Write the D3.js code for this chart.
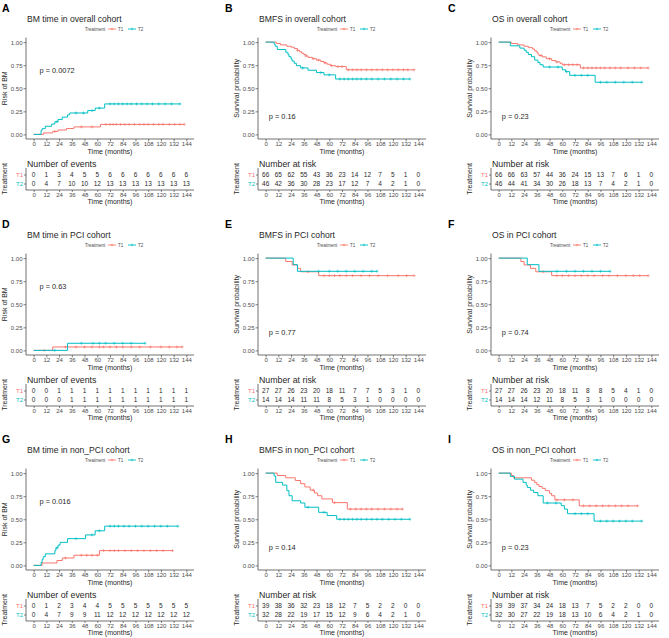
<!DOCTYPE html>
<html>
<head>
<meta charset="utf-8">
<script src="https://cdn.jsdelivr.net/npm/d3@7"></script>
<style>
body { margin: 0; background: #fff; }
svg { font-family: "Liberation Sans", Arial, sans-serif; }
</style>
</head>
<body>
<div id="chart"></div>
<script>
var months = [0, 12, 24, 36, 48, 60, 72, 84, 96, 108, 120, 132, 144];
var probTicks = [0, 0.25, 0.5, 0.75, 1];
var groups = ['T1', 'T2'];

// step curves: [time, value], last point = end of follow-up
var bmAllT1 = [[0,0],[9.5,0.016],[18,0.032],[23,0.048],[31,0.064],[38,0.081],[63,0.108],[142,0.108]];
var bmAllT2 = [[0,0],[7,0.044],[8,0.062],[11,0.088],[17,0.112],[20,0.137],[23,0.162],[27,0.187],[32,0.212],[34,0.232],[51,0.258],[58,0.285],[67,0.33],[138,0.33]];
var bmfsAllT1 = [[0,1],[10,0.985],[14,0.97],[20,0.955],[24,0.945],[27,0.93],[30,0.91],[32,0.895],[34,0.88],[36,0.865],[38,0.85],[40,0.835],[44,0.82],[48,0.805],[52,0.79],[55,0.775],[58,0.76],[61,0.745],[66,0.735],[76,0.70],[140,0.70]];
var bmfsAllT2 = [[0,1],[8,0.978],[9,0.956],[11,0.92],[19,0.89],[21,0.866],[22,0.842],[24,0.818],[25,0.794],[27,0.77],[29,0.745],[33,0.72],[40,0.695],[48,0.67],[55,0.645],[66,0.60],[136,0.60]];
var osAllT1 = [[0,1],[12,0.985],[18,0.97],[24,0.955],[28,0.94],[32,0.925],[34,0.905],[36,0.89],[37,0.87],[38,0.855],[41,0.84],[45,0.82],[50,0.80],[54,0.785],[58,0.77],[60,0.755],[77,0.72],[141,0.72]];
var osAllT2 = [[0,1],[11,0.96],[20,0.935],[24,0.912],[26,0.89],[28,0.866],[31,0.842],[34,0.805],[37,0.78],[39,0.755],[42,0.73],[60,0.70],[63,0.68],[67,0.64],[91,0.565],[135,0.565]];
var bmPciT1 = [[0,0],[18,0.037],[140,0.037]];
var bmPciT2 = [[0,0],[32,0.077],[105,0.077]];
var bmfsPciT1 = [[0,1],[19,0.963],[25,0.926],[30,0.889],[33,0.852],[50,0.81],[140,0.81]];
var bmfsPciT2 = [[0,1],[26,0.929],[30,0.857],[105,0.857]];
var osPciT1 = [[0,1],[21,0.963],[24,0.926],[30,0.889],[35,0.852],[50,0.81],[141,0.81]];
var osPciT2 = [[0,1],[27,0.929],[38,0.857],[105,0.857]];
var bmNonT1 = [[0,0],[8,0.026],[22,0.053],[27,0.08],[38,0.11],[62,0.16],[131,0.16]];
var bmNonT2 = [[0,0],[7,0.031],[8,0.063],[9,0.094],[11,0.125],[20,0.16],[21,0.19],[23,0.22],[25,0.25],[32,0.29],[49,0.33],[58,0.375],[67,0.425],[136,0.425]];
var bmfsNonT1 = [[0,1],[11,0.974],[19,0.949],[28,0.92],[33,0.885],[37,0.85],[42,0.815],[46,0.785],[49,0.755],[53,0.72],[63,0.68],[77,0.61],[129,0.61]];
var bmfsNonT2 = [[0,1],[8,0.969],[9.5,0.90],[16,0.87],[20,0.81],[22,0.755],[25,0.70],[33,0.676],[37,0.63],[50,0.575],[58,0.54],[67,0.50],[136,0.50]];
var osNonT1 = [[0,1],[12,0.974],[14,0.949],[31,0.923],[34,0.897],[36,0.875],[38,0.855],[41,0.835],[44,0.81],[48,0.78],[50,0.755],[53,0.71],[76,0.645],[131,0.645]];
var osNonT2 = [[0,1],[11,0.965],[15,0.935],[23,0.90],[26,0.87],[27,0.845],[30,0.815],[33,0.79],[37,0.755],[42,0.676],[59,0.647],[62,0.61],[65,0.56],[90,0.48],[135,0.48]];

// censoring times (the + marks)
var bmAllT1Cens = [20,45,55,68,72,75,78,82,86,90,95,100,104,108,113,118,122,128,133,138,142];
var bmAllT2Cens = [22,40,47,55,62,72,76,80,84,88,92,97,102,107,112,118,124,130,138];
var bmfsAllT1Cens = [30,38,45,50,56,62,68,72,78,82,86,90,95,100,105,110,115,120,125,130,134,140];
var bmfsAllT2Cens = [35,52,60,70,74,78,82,86,90,95,100,106,112,118,124,130,136];
var osAllT1Cens = [40,48,55,62,66,70,74,80,84,88,92,96,100,105,110,115,122,128,134,141];
var osAllT2Cens = [48,56,64,72,78,84,96,102,110,118,126,135];
var bmPciT1Cens = [10,30,40,48,55,62,66,72,78,84,92,100,110,120,128,135,140];
var bmPciT2Cens = [20,45,56,62,68,76,84,92,105];
var bmfsPciT1Cens = [40,55,60,65,70,76,82,90,98,106,115,125,133,140];
var bmfsPciT2Cens = [50,60,68,76,84,92,100,105];
var osPciT1Cens = [42,55,60,66,72,78,84,90,98,104,112,120,127,133,141];
var osPciT2Cens = [55,64,72,80,88,96,105];
var bmNonT1Cens = [30,45,50,55,60,66,72,76,80,86,92,98,104,110,116,122,131];
var bmNonT2Cens = [22,40,55,62,72,76,80,85,90,96,102,108,114,120,126,136];
var bmfsNonT1Cens = [45,65,80,85,90,95,100,106,112,118,124,129];
var bmfsNonT2Cens = [40,55,70,74,78,82,86,90,95,100,105,110,116,122,128,136];
var osNonT1Cens = [55,62,70,80,86,92,98,104,110,116,122,131];
var osNonT2Cens = [46,54,72,78,84,96,102,108,114,120,126,135];

// tables below the plots
var bmAllTab1 = [0,1,3,4,5,5,6,6,6,6,6,6,6];
var bmAllTab2 = [0,4,7,10,10,12,13,13,13,13,13,13,13];
var bmfsAllTab1 = [66,65,62,55,43,36,23,14,12,7,5,1,0];
var bmfsAllTab2 = [46,42,36,30,28,23,17,12,7,4,2,1,0];
var osAllTab1 = [66,66,63,57,44,36,24,15,13,7,6,1,0];
var osAllTab2 = [46,44,41,34,30,26,18,13,7,4,2,1,0];
var bmPciTab1 = [0,0,1,1,1,1,1,1,1,1,1,1,1];
var bmPciTab2 = [0,0,0,1,1,1,1,1,1,1,1,1,1];
var bmfsPciTab1 = [27,27,26,23,20,18,11,7,7,5,3,1,0];
var bmfsPciTab2 = [14,14,14,11,11,8,5,3,1,0,0,0,0];
var osPciTab1 = [27,27,26,23,20,18,11,8,8,5,4,1,0];
var osPciTab2 = [14,14,14,12,11,8,5,3,1,0,0,0,0];
var bmNonTab1 = [0,1,2,3,4,4,5,5,5,5,5,5,5];
var bmNonTab2 = [0,4,7,9,9,11,12,12,12,12,12,12,12];
var bmfsNonTab1 = [39,38,36,32,23,18,12,7,5,2,2,0,0];
var bmfsNonTab2 = [32,28,22,19,17,15,12,9,6,4,2,1,0];
var osNonTab1 = [39,39,37,34,24,18,13,7,5,2,2,0,0];
var osNonTab2 = [32,30,27,22,19,18,13,10,6,4,2,1,0];

var letters = ['A','B','C','D','E','F','G','H','I'];
var titles = ['BM time in overall cohort','BMFS in overall cohort','OS in overall cohort',
              'BM time in PCI cohort','BMFS in PCI cohort','OS in PCI cohort',
              'BM time in non_PCI cohort','BMFS in non_PCI cohort','OS in non_PCI cohort'];
var pvalues = ['p = 0.0072','p = 0.16','p = 0.23','p = 0.63','p = 0.77','p = 0.74','p = 0.016','p = 0.14','p = 0.23'];

var panels = [
    { risk: true,  curves: [bmAllT1, bmAllT2],   cens: [bmAllT1Cens, bmAllT2Cens],   table: [bmAllTab1, bmAllTab2] },
    { risk: false, curves: [bmfsAllT1, bmfsAllT2], cens: [bmfsAllT1Cens, bmfsAllT2Cens], table: [bmfsAllTab1, bmfsAllTab2] },
    { risk: false, curves: [osAllT1, osAllT2],   cens: [osAllT1Cens, osAllT2Cens],   table: [osAllTab1, osAllTab2] },
    { risk: true,  curves: [bmPciT1, bmPciT2],   cens: [bmPciT1Cens, bmPciT2Cens],   table: [bmPciTab1, bmPciTab2] },
    { risk: false, curves: [bmfsPciT1, bmfsPciT2], cens: [bmfsPciT1Cens, bmfsPciT2Cens], table: [bmfsPciTab1, bmfsPciTab2] },
    { risk: false, curves: [osPciT1, osPciT2],   cens: [osPciT1Cens, osPciT2Cens],   table: [osPciTab1, osPciTab2] },
    { risk: true,  curves: [bmNonT1, bmNonT2],   cens: [bmNonT1Cens, bmNonT2Cens],   table: [bmNonTab1, bmNonTab2] },
    { risk: false, curves: [bmfsNonT1, bmfsNonT2], cens: [bmfsNonT1Cens, bmfsNonT2Cens], table: [bmfsNonTab1, bmfsNonTab2] },
    { risk: false, curves: [osNonT1, osNonT2],   cens: [osNonT1Cens, osNonT2Cens],   table: [osNonTab1, osNonTab2] }
];

var width = 669,
    height = 638,
    colors = ['#F8766D', '#00BFC4'],
    colX = [0, 223, 446],
    rowY = [0, 216, 431],
    axisX = [26, 35, 45],
    axisColor = '#333333',
    textColor = '#4D4D4D',
    titleColor = '#1f1f1f'
;

var svg = d3.select('#chart')
    .append('svg')
    .attr('width', width)
    .attr('height', height)
    .attr('viewBox', '0 0 ' + width + ' ' + height)
;

function valueAt(curve, t) {
    var v = curve[0][1];
    curve.forEach(function(p) { if (p[0] <= t) v = p[1]; });
    return v;
}

function drawPanel(p, i) {
    var col = i % 3, row = Math.floor(i / 3);
    var ax = axisX[col];
    var g = svg.append('g')
        .attr('transform', 'translate(' + colX[col] + ',' + rowY[row] + ')');

    var x = d3.scaleLinear().domain([-7.2, 151.2]).range([ax, ax + 168]);
    var y = d3.scaleLinear().domain([-0.05, 1.05]).range([139, 37.5]);

    // letter and title
    g.append('text').attr('x', 2).attr('y', 12)
        .style('font-size', '10.5px').style('font-weight', 'bold').text(letters[i]);
    g.append('text').attr('x', ax + 1).attr('y', 22).attr('fill', titleColor)
        .style('font-size', '8.6px').text(titles[i]);

    // legend
    var lg = g.append('g').attr('transform', 'translate(' + (ax + 59) + ',29)');
    lg.append('text').attr('x', 0).attr('y', 1.6)
        .style('font-size', '4.5px').attr('fill', textColor).text('Treatment');
    groups.forEach(function(name, k) {
        var ox = 23 + k * 20;
        lg.append('line').attr('x1', ox).attr('x2', ox + 8).attr('y1', 0).attr('y2', 0)
            .attr('stroke', colors[k]).attr('stroke-width', 0.9);
        lg.append('path').attr('d', 'M' + (ox + 2.8) + ',0h2.4M' + (ox + 4) + ',-1.2v2.4')
            .attr('stroke', colors[k]).attr('stroke-width', 0.6);
        lg.append('text').attr('x', ox + 10).attr('y', 1.6)
            .style('font-size', '4.5px').attr('fill', textColor).text(name);
    });

    // axes
    var xAxis = g.append('g').attr('transform', 'translate(0,139)')
        .call(d3.axisBottom(x).tickValues(months).tickSize(2.5).tickSizeOuter(0));
    var yAxis = g.append('g').attr('transform', 'translate(' + ax + ',0)')
        .call(d3.axisLeft(y).tickValues(probTicks).tickFormat(d3.format('.2f')).tickSize(2.5).tickSizeOuter(0));
    [xAxis, yAxis].forEach(function(a) {
        a.select('.domain').attr('stroke', axisColor).attr('stroke-width', 0.7);
        a.selectAll('.tick line').attr('stroke', axisColor).attr('stroke-width', 0.6);
        a.selectAll('.tick text').attr('fill', textColor).style('font-size', '6px').style('font-family', null);
    });
    xAxis.selectAll('.tick text').attr('dy', '0.71em').attr('y', 3.2);
    yAxis.selectAll('.tick text').attr('x', -3.5);
    xAxis.select('.domain').attr('d', 'M' + ax + ',0H' + (ax + 168));
    yAxis.select('.domain').attr('d', 'M0,37.5V139');

    g.append('text').attr('x', x(72)).attr('y', 154).attr('text-anchor', 'middle')
        .attr('fill', titleColor).style('font-size', '7px').text('Time (months)');
    g.append('text').attr('transform', 'translate(' + (ax - 19) + ',' + y(0.5) + ') rotate(-90)')
        .attr('text-anchor', 'middle').attr('fill', titleColor).style('font-size', '7px')
        .text(p.risk ? 'Risk of BM' : 'Survival probability');

    // curves
    var line = d3.line()
        .x(function(d) { return x(d[0]); })
        .y(function(d) { return y(d[1]); })
        .curve(d3.curveStepAfter);
    p.curves.forEach(function(c, k) {
        g.append('path').attr('d', line(c))
            .attr('fill', 'none').attr('stroke', colors[k]).attr('stroke-width', 1);
        g.selectAll('.cens' + k)
            .data(p.cens[k])
            .enter()
            .append('path')
            .attr('class', 'cens' + k)
            .attr('d', function(t) {
                var cx = x(t), cy = y(valueAt(c, t));
                return 'M' + (cx - 1.5) + ',' + cy + 'h3M' + cx + ',' + (cy - 1.5) + 'v3';
            })
            .attr('stroke', colors[k]).attr('stroke-width', 0.6);
    });

    // p value
    g.append('text').attr('x', x(p.risk ? 5.5 : 3))
        .attr('y', y(p.risk ? 0.69 : 0.19) + 2.6).attr('fill', titleColor)
        .style('font-size', '7.4px').text(pvalues[i]);

    // table
    g.append('text').attr('x', ax + 1).attr('y', 166.5).attr('fill', titleColor)
        .style('font-size', '8.8px').text(p.risk ? 'Number of events' : 'Number at risk');
    var ty = d3.scalePoint().domain(groups).range([174.5, 183.5]);
    p.table.forEach(function(vals, k) {
        g.selectAll('.tab' + k)
            .data(vals)
            .enter()
            .append('text')
            .attr('class', 'tab' + k)
            .attr('x', function(d, j) { return x(months[j]); })
            .attr('y', ty(groups[k]) + 2.3)
            .attr('text-anchor', 'middle')
            .attr('fill', '#2a2a2a')
            .style('font-size', '6.5px')
            .text(function(d) { return d; });
    });
    var tx = g.append('g').attr('transform', 'translate(0,190)')
        .call(d3.axisBottom(x).tickValues(months).tickSize(2).tickSizeOuter(0));
    var tyAxis = g.append('g').attr('transform', 'translate(' + ax + ',0)')
        .call(d3.axisLeft(ty).tickSize(2).tickSizeOuter(0));
    [tx, tyAxis].forEach(function(a) {
        a.select('.domain').attr('stroke', axisColor).attr('stroke-width', 0.7);
        a.selectAll('.tick line').attr('stroke', axisColor).attr('stroke-width', 0.6);
        a.selectAll('.tick text').style('font-size', '6px').style('font-family', null);
    });
    tx.select('.domain').attr('d', 'M' + ax + ',0H' + (ax + 168));
    tyAxis.select('.domain').attr('d', 'M0,168V190');
    tx.selectAll('.tick text').attr('fill', textColor).attr('y', 2.6);
    tyAxis.selectAll('.tick text').attr('x', -3).attr('fill', function(d, k) { return colors[k]; });

    g.append('text').attr('x', x(72)).attr('y', 204).attr('text-anchor', 'middle')
        .attr('fill', titleColor).style('font-size', '7px').text('Time (months)');
    g.append('text').attr('transform', 'translate(' + (ax - 19) + ',179) rotate(-90)')
        .attr('text-anchor', 'middle').attr('fill', titleColor).style('font-size', '7px').text('Treatment');
}

panels.forEach(drawPanel);
</script>
</body>
</html>
